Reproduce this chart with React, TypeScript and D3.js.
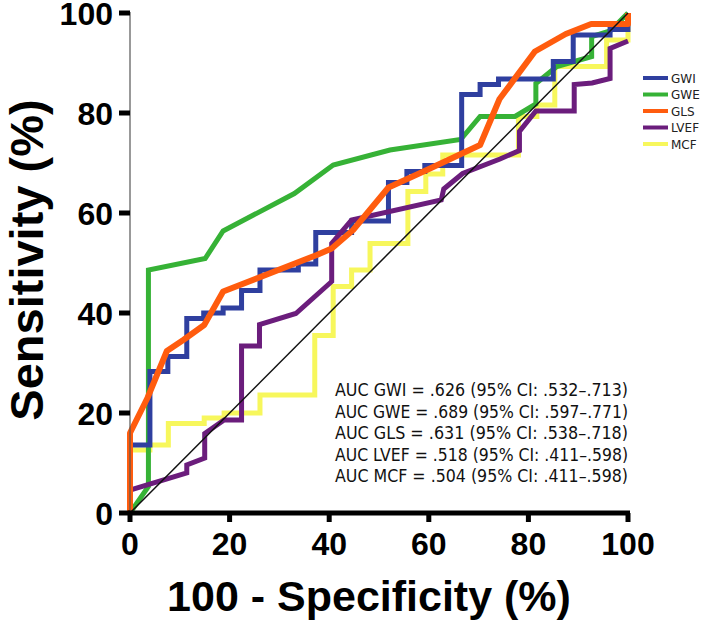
import * as d3 from "d3";

// ROC curve points: [100 - specificity, sensitivity]
const gwiPts: [number, number][] = [
  [0, 0], [0, 13.6], [4, 13.6], [4, 28.3], [7.6, 28.3], [7.6, 31.3], [11.4, 31.3], [11.4, 38.9],
  [14.8, 38.9], [14.8, 40], [18.7, 40], [18.7, 41], [22.4, 41], [22.4, 44.5], [26.1, 44.5],
  [26.1, 48.6], [33.8, 48.6], [33.8, 49.8], [37.3, 49.8], [37.3, 56.1], [44.5, 56.1], [44.5, 58.4],
  [51.9, 58.4], [51.9, 66.1], [55.6, 66.1], [55.6, 68.3], [59.2, 68.3], [59.2, 69.5], [66.6, 69.5],
  [66.6, 83.7], [70.3, 83.7], [70.3, 85.7], [74, 85.7], [74, 86.8], [85, 86.8], [85, 90.3],
  [89, 90.3], [89, 95.6], [96.4, 95.6], [96.4, 96.7], [100, 96.7], [100, 100],
];
const gwePts: [number, number][] = [
  [0, 0], [3.7, 5.3], [3.7, 48.6], [15.1, 50.9], [18.7, 56.4], [33, 63.9], [40.8, 69.6],
  [52.2, 72.6], [66.4, 74.7], [70.3, 79.3], [77.3, 79.3], [81.5, 81.8], [81.5, 85.9],
  [85.7, 89.3], [92.7, 91.3], [92.7, 95.3], [96.4, 96.4], [100, 100],
];
const glsPts: [number, number][] = [
  [0, 0], [0, 16], [3.5, 23], [7.4, 32.4], [10.7, 34.6], [14.9, 37.6], [18.7, 44.3], [37.5, 51.6],
  [40.5, 52.9], [44.8, 56.6], [51.9, 65.1], [59.6, 68.6], [70.3, 73.6], [74.2, 82.8], [81.3, 92.3],
  [87.5, 95.8], [92.6, 97.8], [100, 97.8], [100, 100],
];
const lvefPts: [number, number][] = [
  [0, 0], [0, 4.6], [11.4, 8], [11.4, 9.6], [15, 11], [15, 15.9], [18.9, 18.6], [22.4, 18.6],
  [22.4, 33.4], [26, 33.4], [26, 37.7], [33.3, 39.9], [40.5, 46.3], [40.5, 53.9], [44.5, 58.6],
  [62.5, 62.6], [63, 64.8], [66.8, 67.9], [74.3, 70.8], [78.2, 72.5], [78.2, 76.3], [81.5, 80.4],
  [89.2, 80.4], [89.2, 85.7], [92.8, 86], [96.4, 86.9], [96.4, 92.9], [100, 94.4],
];
const mcfPts: [number, number][] = [
  [0, 0], [0, 12.6], [4, 12.6], [4, 13.6], [7.7, 13.6], [7.7, 17.9], [14.9, 17.9], [14.9, 19],
  [18.9, 19], [18.9, 20], [26.1, 20], [26.1, 23.6], [37.1, 23.6], [37.1, 35.5], [40.8, 35.5],
  [40.8, 45.3], [44.5, 45.3], [44.5, 48.6], [48.2, 48.6], [48.2, 53.9], [55.8, 53.9], [55.8, 64.3],
  [59.4, 64.3], [59.4, 67.8], [62.8, 67.8], [62.8, 71.6], [78, 71.6], [78, 79.3], [81.7, 79.3],
  [81.7, 81.6], [85.3, 81.6], [85.3, 89.3], [95.7, 89.3], [95.7, 94.6], [100, 94.6], [100, 100],
];

const seriesNames = ["GWI", "GWE", "GLS", "LVEF", "MCF"];
const seriesColors = ["#2f3f9f", "#36b236", "#ff5c0e", "#6b1d7c", "#f7f75c"];
const seriesPts = [gwiPts, gwePts, glsPts, lvefPts, mcfPts];
const drawOrder = [4, 1, 0, 3, 2]; // yellow at the bottom, orange on top

const aucLines = [
  "AUC GWI = .626 (95% CI: .532\u2013.713)",
  "AUC GWE = .689 (95% CI: .597\u2013.771)",
  "AUC GLS = .631 (95% CI: .538\u2013.718)",
  "AUC LVEF = .518 (95% CI: .411\u2013.598)",
  "AUC MCF = .504 (95% CI: .411\u2013.598)",
];

const ticks = [0, 20, 40, 60, 80, 100];

const W = 708;
const H = 626;

export default function App() {
  const x = d3.scaleLinear().domain([0, 100]).range([130, 628]);
  const y = d3.scaleLinear().domain([0, 100]).range([513, 13]);
  const line = d3.line<[number, number]>().x((d) => x(d[0])).y((d) => y(d[1]));

  const arial = "'Liberation Sans', Arial, sans-serif";
  const verdana = "'DejaVu Sans', Verdana, sans-serif";

  return (
    <div style={{ position: "absolute", left: 0, top: 0 }}>
      <svg width={W} height={H} style={{ display: "block", background: "#fff" }}>
        {/* curves */}
        {drawOrder.map((i) => (
          <path
            key={seriesNames[i]}
            d={line(seriesPts[i]) || ""}
            fill="none"
            stroke={seriesColors[i]}
            strokeWidth={i === 2 ? 6 : 5}
            strokeLinejoin={i === 2 ? "round" : "miter"}
            strokeMiterlimit={4}
          />
        ))}

        {/* reference diagonal */}
        <line x1={x(0)} y1={y(0)} x2={x(100)} y2={y(100)} stroke="#111" strokeWidth={1.5} />

        {/* y axis */}
        <line x1={x(0)} x2={x(0)} y1={y(100) - 1} y2={y(0)} stroke="#555" strokeWidth={1.2} />
        {ticks.map((t) => (
          <g key={"y" + t}>
            <line x1={x(0) - 11} x2={x(0)} y1={y(t)} y2={y(t)} stroke="#000" strokeWidth={5} />
            <text
              x={113}
              y={y(t) + 12}
              textAnchor="end"
              fontFamily={arial}
              fontWeight="bold"
              fontSize={32}
              fill="#000"
            >
              {t}
            </text>
          </g>
        ))}

        {/* x axis */}
        <line x1={x(0) - 2} x2={x(100) + 2} y1={y(0)} y2={y(0)} stroke="#000" strokeWidth={5} />
        {ticks.map((t) => (
          <g key={"x" + t}>
            <line x1={x(t)} x2={x(t)} y1={y(0)} y2={y(0) + 9} stroke="#000" strokeWidth={5} />
            <text
              x={x(t)}
              y={555}
              textAnchor="middle"
              fontFamily={arial}
              fontWeight="bold"
              fontSize={32}
              fill="#000"
            >
              {t}
            </text>
          </g>
        ))}

        {/* axis titles */}
        <text
          x={369}
          y={611}
          textAnchor="middle"
          fontFamily={arial}
          fontWeight="bold"
          fontSize={43}
          fill="#000"
        >
          100 - Specificity (%)
        </text>
        <text
          transform={`translate(43,260) rotate(-90)`}
          textAnchor="middle"
          fontFamily={arial}
          fontWeight="bold"
          fontSize={47}
          fill="#000"
        >
          Sensitivity (%)
        </text>

        {/* legend */}
        {seriesNames.map((n, i) => (
          <g key={"lg" + n} transform={`translate(0,${78 + i * 16.5})`}>
            <line x1={643} x2={668} y1={0} y2={0} stroke={seriesColors[i]} strokeWidth={4} />
            <text x={671} y={4.5} fontFamily={verdana} fontSize={12} fill="#222">
              {n}
            </text>
          </g>
        ))}

        {/* AUC annotations */}
        {aucLines.map((s, i) => (
          <text
            key={"auc" + i}
            x={335}
            y={396 + i * 21.5}
            fontFamily={verdana}
            fontSize={17}
            textLength={293}
            lengthAdjust="spacingAndGlyphs"
            fill="#111"
          >
            {s}
          </text>
        ))}
      </svg>
    </div>
  );
}
